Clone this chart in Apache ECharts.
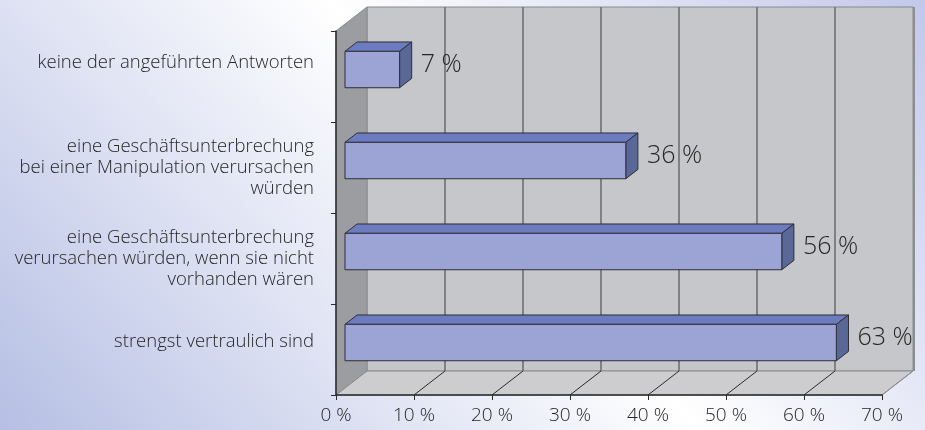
<!DOCTYPE html>
<html>
<head>
<meta charset="utf-8">
<script src="https://cdn.jsdelivr.net/npm/echarts@6/dist/echarts.min.js"></script>
<style>
  html, body { margin: 0; padding: 0; }
  #chart { width: 925px; height: 430px; }
</style>
</head>
<body>
<div id="chart"></div>
<script>
// Answer categories (top to bottom) and their shares in percent
const categories = [
  'keine der angeführten Antworten',
  'eine Geschäftsunterbrechung\nbei einer Manipulation verursachen\nwürden',
  'eine Geschäftsunterbrechung\nverursachen würden, wenn sie nicht\nvorhanden wären',
  'strengst vertraulich sind'
];
const values = [7, 36, 56, 63];
const axisTicks = [0, 10, 20, 30, 40, 50, 60, 70];

// 3D look: depth of the walls and placement of the bars inside that depth
const DEPTH_X = 31, DEPTH_Y = 24;
const BAR_FRONT = 0.29, BAR_BACK = 0.68;
const BAR_THICK = 0.4;
const FONT = '"Open Sans", "Liberation Sans", sans-serif';
const TEXT = '#262626';

const chart = echarts.init(document.getElementById('chart'));

function renderWalls(params, api) {
  const cs = params.coordSys;
  const x0 = cs.x, y0 = cs.y, x1 = cs.x + cs.width, y1 = cs.y + cs.height;
  const dx = DEPTH_X, dy = DEPTH_Y;
  const children = [];
  // back wall
  children.push({ type: 'polygon', shape: { points: [[x0 + dx, y0 - dy], [x1 + dx, y0 - dy], [x1 + dx, y1 - dy], [x0 + dx, y1 - dy]] },
    style: { fill: '#c6c7cb', stroke: '#8a8a8c', lineWidth: 1 } });
  // right edge shading of the back wall
  children.push({ type: 'rect', shape: { x: x1 + dx, y: y0 - dy, width: 2, height: cs.height },
    style: { fill: '#8c8d90' } });
  // left wall
  children.push({ type: 'polygon', shape: { points: [[x0, y0], [x0 + dx, y0 - dy], [x0 + dx, y1 - dy], [x0, y1]] },
    style: { fill: '#9c9da0', stroke: '#8a8a8c', lineWidth: 1 } });
  // floor
  children.push({ type: 'polygon', shape: { points: [[x0, y1], [x1, y1], [x1 + dx, y1 - dy], [x0 + dx, y1 - dy]] },
    style: { fill: '#cdcdcf', stroke: '#8a8a8c', lineWidth: 1 } });
  // grid lines on the back wall and diagonals across the floor
  axisTicks.forEach(function (t) {
    const px = api.coord([t, 0])[0];
    const last = t === axisTicks[axisTicks.length - 1];
    if (t > 0 && !last) {
      children.push({ type: 'line', shape: { x1: px + dx, y1: y0 - dy, x2: px + dx, y2: y1 - dy },
        style: { stroke: '#6f6f71', lineWidth: 1.6 } });
    }
    if (t > 0) {
      children.push({ type: 'line', shape: { x1: px, y1: y1, x2: px + dx, y2: y1 - dy },
        style: { stroke: last ? '#8a8a8c' : '#2a2a2a', lineWidth: 1 } });
    }
  });
  return { type: 'group', children: children };
}

function renderBar(params, api) {
  const v = api.value(0), c = api.value(1);
  const p0 = api.coord([0, c]);
  const p1 = api.coord([v, c]);
  const band = api.size([0, 1])[1];
  const h = band * BAR_THICK;
  const fx = BAR_FRONT * DEPTH_X, fy = BAR_FRONT * DEPTH_Y;
  const bx = (BAR_BACK - BAR_FRONT) * DEPTH_X, by = (BAR_BACK - BAR_FRONT) * DEPTH_Y;
  const X0 = p0[0] + fx, X1 = p1[0] + fx;
  const yc = p1[1] - fy;
  const Yt = yc - h / 2, Yb = yc + h / 2;
  const edge = { stroke: '#2e2e3a', lineWidth: 1 };
  return {
    type: 'group',
    children: [
      { type: 'polygon', shape: { points: [[X0, Yt], [X1, Yt], [X1 + bx, Yt - by], [X0 + bx, Yt - by]] },
        style: Object.assign({ fill: '#6d7cbf' }, edge) },
      { type: 'polygon', shape: { points: [[X1, Yt], [X1 + bx, Yt - by], [X1 + bx, Yb - by], [X1, Yb]] },
        style: Object.assign({ fill: '#5a6897' }, edge) },
      { type: 'rect', shape: { x: X0, y: Yt, width: X1 - X0, height: h },
        style: Object.assign({ fill: '#9ca3d5' }, edge) },
      { type: 'text', x: X1 + bx + 9, y: yc - by / 2,
        style: { text: v + ' %', fill: TEXT, font: '300 25px ' + FONT, verticalAlign: 'middle', align: 'left' } }
    ]
  };
}

chart.setOption({
  backgroundColor: {
    type: 'linear', x: 0, y: 430, x2: 744, y2: -210, global: true,
    colorStops: [
      { offset: 0, color: '#b6bfe4' },
      { offset: 0.54, color: '#ffffff' },
      { offset: 1, color: '#c2c8ea' }
    ]
  },
  animation: false,
  grid: { left: 336, right: 43, top: 31, bottom: 35 },
  xAxis: {
    type: 'value', min: 0, max: 70, interval: 10, z: 3,
    axisLine: { show: true, lineStyle: { color: '#2a2a2a', width: 1.5 } },
    axisTick: { show: true, length: 5, lineStyle: { color: '#2a2a2a' } },
    splitLine: { show: false },
    axisLabel: { formatter: '{value} %', color: TEXT, fontSize: 19, fontFamily: FONT, fontWeight: 300, margin: 11 }
  },
  yAxis: {
    type: 'category', inverse: true, data: categories, z: 3,
    axisLine: { show: true, lineStyle: { color: '#2a2a2a', width: 1.5 } },
    axisTick: { show: true, length: 5, lineStyle: { color: '#2a2a2a' } },
    axisLabel: {
      color: TEXT, fontSize: 18.5, fontFamily: FONT, fontWeight: 300, lineHeight: 21, margin: 22, align: 'right',
      formatter: function (val, idx) {
        if (idx === 0) return '{up1|' + val + '}';
        if (idx === 3) return '{up4|' + val + '}';
        return val;
      },
      rich: {
        up1: { fontSize: 18.5, fontFamily: FONT, fontWeight: 300, color: TEXT, lineHeight: 21, padding: [0, 0, 27, 0] },
        up4: { fontSize: 18.5, fontFamily: FONT, fontWeight: 300, color: TEXT, lineHeight: 21, padding: [0, 0, 15, 0] }
      }
    }
  },
  series: [
    { type: 'custom', z: 1, silent: true, renderItem: renderWalls, data: [[0, 0]] },
    { type: 'custom', z: 4, renderItem: renderBar, data: values.map(function (v, i) { return [v, i]; }) }
  ]
});
</script>
</body>
</html>
